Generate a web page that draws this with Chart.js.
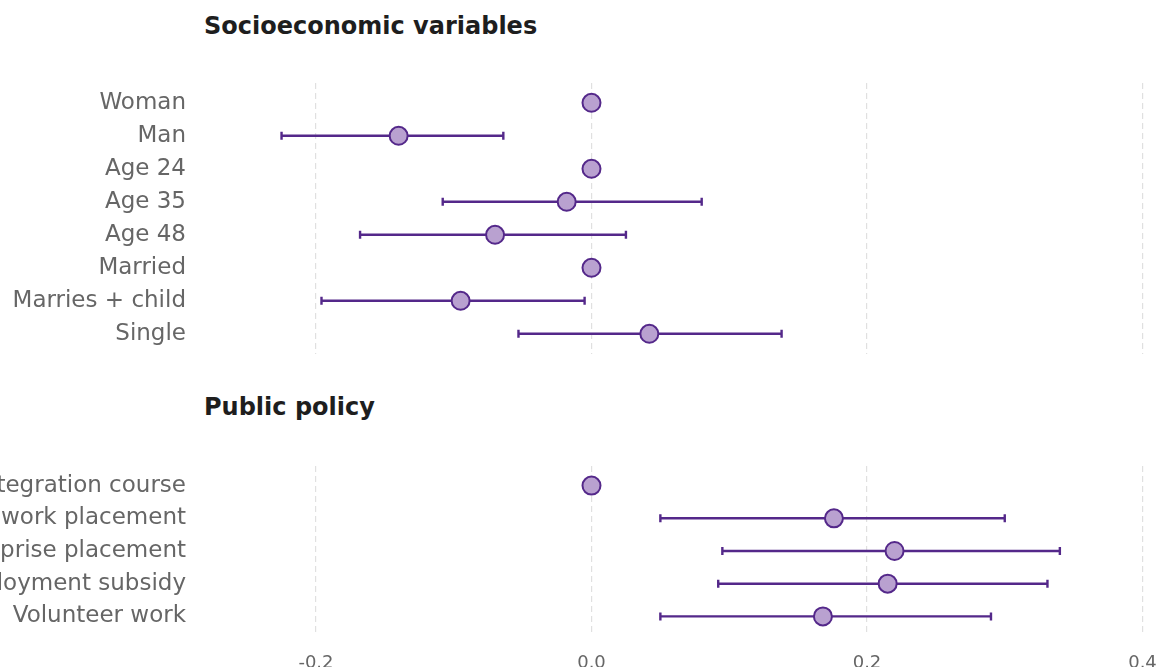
<!DOCTYPE html>
<html>
<head>
<meta charset="utf-8">
<script src="https://cdn.jsdelivr.net/npm/chart.js@4.4.1/dist/chart.umd.min.js"></script>
<style>
  html, body { margin: 0; padding: 0; background: #fff; overflow: hidden; }
  body { width: 1160px; height: 667px; position: relative; }
  .panel-title {
    position: absolute; left: 204px;
    font-family: "DejaVu Sans", sans-serif; font-weight: bold;
    font-size: 24px; color: #1e1e1e; line-height: 28px; white-space: nowrap;
  }
  canvas { position: absolute; left: 0; }
</style>
</head>
<body>
<div class="panel-title" style="top:12px">Socioeconomic variables</div>
<div class="panel-title" style="top:393px">Public policy</div>
<canvas id="socio" width="1160" height="370" style="top:0"></canvas>
<canvas id="policy" width="1160" height="310" style="top:370px"></canvas>
<script>
// Coefficient estimates with 95% confidence intervals (null = reference category)
const socioLabels = ["Woman", "Man", "Age 24", "Age 35", "Age 48", "Married", "Marries + child", "Single"];
const socioEst    = [0, -0.140, 0, -0.018, -0.070, 0, -0.095, 0.042];
const socioLow    = [null, -0.225, null, -0.108, -0.168, null, -0.196, -0.053];
const socioHigh   = [null, -0.064, null, 0.080, 0.025, null, -0.005, 0.138];

const policyLabels = ["Integration course", "Public work placement", "Enterprise placement", "Employment subsidy", "Volunteer work"];
const policyEst    = [0, 0.176, 0.220, 0.215, 0.168];
const policyLow    = [null, 0.050, 0.095, 0.092, 0.050];
const policyHigh   = [null, 0.300, 0.340, 0.331, 0.290];

const xTicks = [-0.2, 0.0, 0.2, 0.4];
const xMin = -0.2871, xMax = 0.4127;

const PURPLE = "#54288a";
const LILAC = "#b9a1d0";
const LABEL_FONT = "DejaVu Sans";

// Horizontal confidence-interval whiskers, drawn beneath the points
const whiskers = {
  id: "whiskers",
  beforeDatasetsDraw(chart, args, opts) {
    const { ctx, scales: { x, y } } = chart;
    ctx.save();
    ctx.strokeStyle = PURPLE;
    ctx.lineWidth = 2.4;
    opts.low.forEach((lo, i) => {
      const hi = opts.high[i];
      if (lo === null || hi === null) return;
      const py = y.getPixelForValue(i);
      const x0 = x.getPixelForValue(lo), x1 = x.getPixelForValue(hi);
      ctx.beginPath();
      ctx.moveTo(x0, py); ctx.lineTo(x1, py);
      ctx.moveTo(x0, py - 4); ctx.lineTo(x0, py + 4);
      ctx.moveTo(x1, py - 4); ctx.lineTo(x1, py + 4);
      ctx.stroke();
    });
    ctx.restore();
  }
};

function makePanel(id, labels, est, low, high, showX, padTop, padBottom) {
  const n = labels.length;
  return new Chart(document.getElementById(id), {
    type: "scatter",
    data: {
      datasets: [{
        data: est.map((v, i) => ({ x: v, y: i })),
        pointRadius: 9,
        pointHoverRadius: 9,
        pointBackgroundColor: LILAC,
        pointBorderColor: PURPLE,
        pointBorderWidth: 2
      }]
    },
    options: {
      responsive: false,
      animation: false,
      events: [],
      layout: { autoPadding: false, padding: { top: padTop, bottom: padBottom, left: 0, right: 0 } },
      plugins: {
        legend: { display: false },
        tooltip: { enabled: false },
        whiskers: { low, high }
      },
      scales: {
        x: {
          type: "linear",
          min: xMin, max: xMax,
          afterBuildTicks: s => { s.ticks = xTicks.map(v => ({ value: v })); },
          afterFit: s => {
            s.paddingLeft = 0; s.paddingRight = 0;
            s.height = showX ? 35 : 0;
          },
          border: { display: false, dash: [6, 4] },
          grid: { color: "#e0e0e0", lineWidth: 1.2, drawTicks: false },
          ticks: {
            display: showX,
            padding: 17,
            color: "#666",
            font: { family: LABEL_FONT, size: 18 },
            callback: v => v.toFixed(1)
          }
        },
        y: {
          type: "linear",
          reverse: true,
          min: -0.6, max: n - 0.4,
          afterBuildTicks: s => { s.ticks = labels.map((_, i) => ({ value: i })); },
          afterFit: s => { s.width = 196; s.paddingTop = 0; s.paddingBottom = 0; },
          border: { display: false },
          grid: { display: false, drawTicks: false },
          ticks: {
            padding: 10,
            color: "#666",
            font: { family: LABEL_FONT, size: 23 },
            callback: (v) => labels[v]
          }
        }
      }
    },
    plugins: [whiskers]
  });
}

makePanel("socio", socioLabels, socioEst, socioLow, socioHigh, false, 83, 16.4);
makePanel("policy", policyLabels, policyEst, policyLow, policyHigh, true, 96, 9);
</script>
</body>
</html>
